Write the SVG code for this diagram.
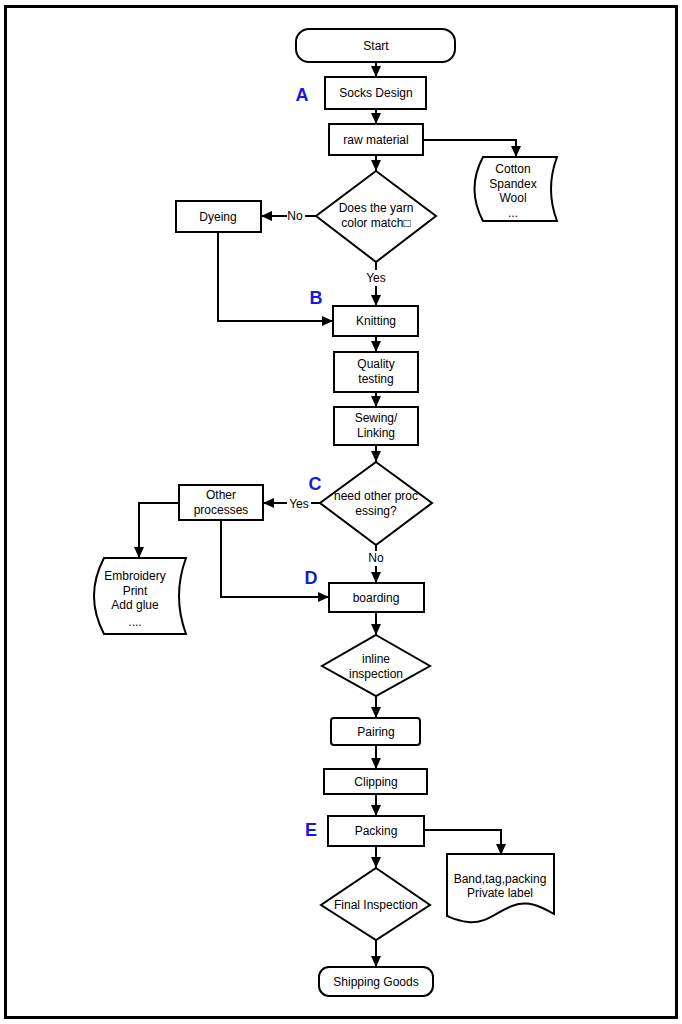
<svg xmlns="http://www.w3.org/2000/svg" width="682" height="1024" viewBox="0 0 682 1024">
<defs>
<marker id="ah" markerWidth="11" markerHeight="10" refX="11" refY="5" orient="auto" markerUnits="userSpaceOnUse">
<path d="M0,0 L11,5 L0,10 Z" fill="#000"/>
</marker>
</defs>
<style>
.n{fill:#fff;stroke:#000;stroke-width:2}
.t{font-family:"Liberation Sans",Arial,sans-serif;font-size:12px;fill:#000;text-anchor:middle}
.l{font-family:"Liberation Sans",Arial,sans-serif;font-size:18px;font-weight:bold;fill:#1818d8;text-anchor:middle}
.c{fill:none;stroke:#000;stroke-width:2}
</style>
<rect x="0" y="0" width="682" height="1024" fill="#fff"/>
<rect x="5.5" y="6.5" width="671" height="1011" fill="none" stroke="#000" stroke-width="3"/>

<g id="connectors">
<path class="c" d="M376,62 V77" marker-end="url(#ah)"/>
<path class="c" d="M376,109 V124" marker-end="url(#ah)"/>
<path class="c" d="M423,140 H516 V157" marker-end="url(#ah)"/>
<path class="c" d="M376,155 V171" marker-end="url(#ah)"/>
<path class="c" d="M316,216 H305"/>
<path class="c" d="M287,216 H261" marker-end="url(#ah)"/>
<path class="c" d="M376,262 V270"/>
<path class="c" d="M376,286 V306" marker-end="url(#ah)"/>
<path class="c" d="M218,232 V321 H333" marker-end="url(#ah)"/>
<path class="c" d="M376,336 V352" marker-end="url(#ah)"/>
<path class="c" d="M376,392 V407" marker-end="url(#ah)"/>
<path class="c" d="M376,445 V462" marker-end="url(#ah)"/>
<path class="c" d="M320,503 H311"/>
<path class="c" d="M287,503 H263" marker-end="url(#ah)"/>
<path class="c" d="M179,503 H139 V558" marker-end="url(#ah)"/>
<path class="c" d="M221,520 V597 H329" marker-end="url(#ah)"/>
<path class="c" d="M376,545 V551"/>
<path class="c" d="M376,566 V583" marker-end="url(#ah)"/>
<path class="c" d="M376,612 V635" marker-end="url(#ah)"/>
<path class="c" d="M376,696 V718" marker-end="url(#ah)"/>
<path class="c" d="M376,745 V769" marker-end="url(#ah)"/>
<path class="c" d="M376,794 V816" marker-end="url(#ah)"/>
<path class="c" d="M424,830 H501 V855" marker-end="url(#ah)"/>
<path class="c" d="M376,846 V868" marker-end="url(#ah)"/>
<path class="c" d="M376,940 V967" marker-end="url(#ah)"/>
<text class="t" x="295" y="220">No</text>
<text class="t" x="376" y="282">Yes</text>
<text class="t" x="299" y="508">Yes</text>
<text class="t" x="376" y="562">No</text>
</g>

<g id="labels">
<text class="l" x="302" y="101">A</text>
<text class="l" x="316" y="304">B</text>
<text class="l" x="315" y="490">C</text>
<text class="l" x="311" y="584">D</text>
<text class="l" x="311" y="836">E</text>
</g>

<g id="start">
<rect class="n" x="296" y="29" width="159" height="33" rx="13"/>
<text class="t" x="376" y="50">Start</text>
</g>
<g id="socks-design">
<rect class="n" x="325" y="77" width="101" height="32"/>
<text class="t" x="376" y="97">Socks Design</text>
</g>
<g id="raw-material">
<rect class="n" x="329" y="124" width="94" height="31"/>
<text class="t" x="376" y="144">raw material</text>
</g>
<g id="materials">
<path class="n" d="M483,157 H557 Q545,189 557,221 H483 Q466,189 483,157 Z"/>
<text class="t" x="513" y="173">Cotton</text>
<text class="t" x="513" y="188">Spandex</text>
<text class="t" x="513" y="202">Wool</text>
<text class="t" x="513" y="217" font-size="10">...</text>
</g>
<g id="yarn-match">
<path class="n" d="M376,171 L436,216 L376,262 L316,216 Z"/>
<text class="t" x="376" y="212">Does the yarn</text>
<text class="t" x="376" y="227">color match□</text>
</g>
<g id="dyeing">
<rect class="n" x="176" y="201" width="85" height="31"/>
<text class="t" x="218" y="221">Dyeing</text>
</g>
<g id="knitting">
<rect class="n" x="333" y="306" width="85" height="30"/>
<text class="t" x="376" y="325">Knitting</text>
</g>
<g id="quality-testing">
<rect class="n" x="334" y="352" width="84" height="40"/>
<text class="t" x="376" y="368">Quality</text>
<text class="t" x="376" y="383">testing</text>
</g>
<g id="sewing">
<rect class="n" x="334" y="407" width="84" height="38"/>
<text class="t" x="376" y="422">Sewing/</text>
<text class="t" x="376" y="437">Linking</text>
</g>
<g id="other-processing">
<path class="n" d="M376,462 L432,503 L376,545 L320,503 Z"/>
<text class="t" x="376" y="500">need other proc</text>
<text class="t" x="376" y="515">essing?</text>
</g>
<g id="other-processes">
<rect class="n" x="179" y="485" width="84" height="35"/>
<text class="t" x="221" y="499">Other</text>
<text class="t" x="221" y="514">processes</text>
</g>
<g id="extras">
<path class="n" d="M104,558 H186 Q172,596 186,634 H104 Q84,596 104,558 Z"/>
<text class="t" x="135" y="580">Embroidery</text>
<text class="t" x="135" y="595">Print</text>
<text class="t" x="135" y="609">Add glue</text>
<text class="t" x="135" y="626" font-size="10">....</text>
</g>
<g id="boarding">
<rect class="n" x="329" y="583" width="95" height="29"/>
<text class="t" x="376" y="602">boarding</text>
</g>
<g id="inline-inspection">
<path class="n" d="M376,635 L430,666 L376,696 L322,666 Z"/>
<text class="t" x="376" y="663">inline</text>
<text class="t" x="376" y="678">inspection</text>
</g>
<g id="pairing">
<rect class="n" x="331" y="718" width="89" height="27" rx="3"/>
<text class="t" x="376" y="736">Pairing</text>
</g>
<g id="clipping">
<rect class="n" x="324" y="769" width="103" height="25"/>
<text class="t" x="376" y="786">Clipping</text>
</g>
<g id="packing">
<rect class="n" x="328" y="816" width="96" height="30"/>
<text class="t" x="376" y="835">Packing</text>
</g>
<g id="packaging-items">
<path class="n" d="M447,854 H554 V914 C540,906 528,900 512,906 C496,912 486,924 468,922 C458,921 452,918 447,916 Z"/>
<text class="t" x="500" y="883">Band,tag,packing</text>
<text class="t" x="500" y="897">Private label</text>
</g>
<g id="final-inspection">
<path class="n" d="M376,868 L430,905 L376,940 L321,905 Z"/>
<text class="t" x="376" y="909">Final Inspection</text>
</g>
<g id="shipping">
<rect class="n" x="319" y="967" width="114" height="29" rx="10"/>
<text class="t" x="376" y="986">Shipping Goods</text>
</g>
</svg>
